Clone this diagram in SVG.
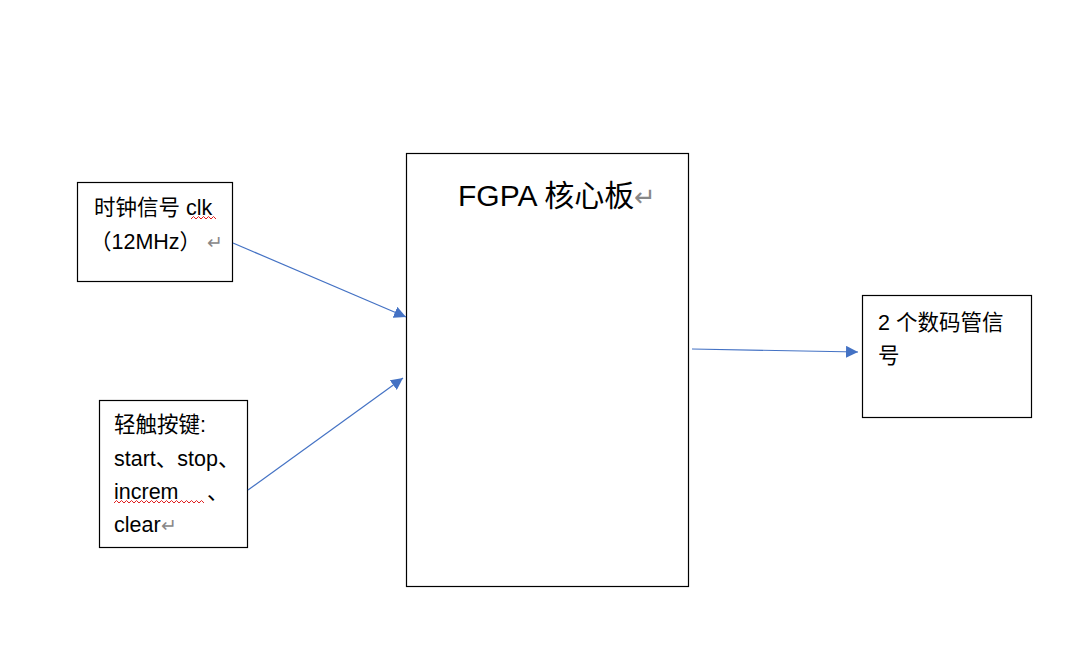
<svg xmlns="http://www.w3.org/2000/svg" width="1080" height="666" viewBox="0 0 1080 666">
<style>
.box{fill:#fff;stroke:#000;stroke-width:1.2}
.t{font-family:"Liberation Sans","Noto Sans CJK SC",sans-serif;font-size:21.5px;fill:#000}
.big{font-size:30px}
.ret{fill:#888;font-size:19px}
.retb{fill:#888;font-size:26px}
.conn{stroke:#4472C4;stroke-width:1.2;fill:none}
.wave{stroke:#e02020;stroke-width:1;fill:none}
</style>
<defs>
<marker id="ah" viewBox="0 0 10 10" refX="10" refY="5" markerWidth="12" markerHeight="12" markerUnits="userSpaceOnUse" orient="auto">
<path d="M0,0 L10,5 L0,10 z" fill="#4472C4"/>
</marker>
</defs>
<rect width="1080" height="666" fill="#fff"/>
<g id="clk">
<rect class="box" x="77.5" y="182.5" width="155" height="99"/>
<text class="t" x="94" y="215">时钟信号 clk</text>
<text class="t" x="90" y="249">（12MHz）<tspan class="ret" dx="6">↵</tspan></text>
<path class="wave" d="M191,219 l2.5,-2.5 l2.5,2.5 l2.5,-2.5 l2.5,2.5 l2.5,-2.5 l2.5,2.5 l2.5,-2.5 l2.5,2.5 l2.5,-2.5 l2.5,2.5"/>
</g>
<g id="keys">
<rect class="box" x="99.5" y="400.5" width="148" height="147"/>
<text class="t" x="114" y="432">轻触按键:</text>
<text class="t" x="114" y="466">start、stop、</text>
<text class="t" x="114" y="499">increm<tspan x="207">、</tspan></text>
<text class="t" x="114" y="532">clear<tspan class="ret">↵</tspan></text>
<path class="wave" d="M114,503 l2.5,-2.5 l2.5,2.5 l2.5,-2.5 l2.5,2.5 l2.5,-2.5 l2.5,2.5 l2.5,-2.5 l2.5,2.5 l2.5,-2.5 l2.5,2.5 l2.5,-2.5 l2.5,2.5 l2.5,-2.5 l2.5,2.5 l2.5,-2.5 l2.5,2.5 l2.5,-2.5 l2.5,2.5 l2.5,-2.5 l2.5,2.5 l2.5,-2.5 l2.5,2.5 l2.5,-2.5 l2.5,2.5 l2.5,-2.5 l2.5,2.5 l2.5,-2.5 l2.5,2.5 l2.5,-2.5 l2.5,2.5 l2.5,-2.5 l2.5,2.5 l2.5,-2.5 l2.5,2.5 l2.5,-2.5 l2.5,2.5"/>
</g>
<g id="fpga">
<rect class="box" x="406.5" y="153.5" width="282" height="433"/>
<text class="t big" x="458" y="206">FGPA 核心板<tspan class="retb">↵</tspan></text>
</g>
<g id="display">
<rect class="box" x="862.5" y="295.5" width="169" height="122"/>
<text class="t" x="878" y="330">2 个数码管信</text>
<text class="t" x="878" y="363">号</text>
</g>
<g id="connectors">
<line class="conn" x1="233" y1="243" x2="406" y2="317" marker-end="url(#ah)"/>
<line class="conn" x1="248" y1="490" x2="403" y2="378" marker-end="url(#ah)"/>
<line class="conn" x1="692" y1="349" x2="858" y2="352" marker-end="url(#ah)"/>
</g>
</svg>
